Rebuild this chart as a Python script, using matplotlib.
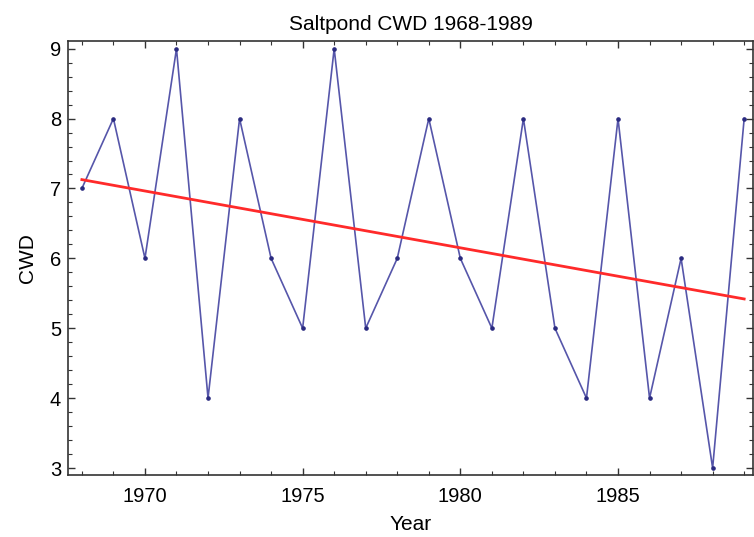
import numpy as np
import matplotlib
matplotlib.use("Agg")
import matplotlib.pyplot as plt
from matplotlib.ticker import MultipleLocator

years = [1968, 1969, 1970, 1971, 1972, 1973, 1974, 1975, 1976, 1977, 1978,
         1979, 1980, 1981, 1982, 1983, 1984, 1985, 1986, 1987, 1988, 1989]
cwd = [7, 8, 6, 9, 4, 8, 6, 5, 9, 5, 6, 8, 6, 5, 8, 5, 4, 8, 4, 6, 3, 8]
title = "Saltpond CWD 1968-1989"

plt.rcParams['font.family'] = ['Liberation Sans', 'DejaVu Sans']

fig = plt.figure(figsize=(7.54, 5.37), dpi=100)
ax = fig.add_axes([68/754, 62/537, (753-68)/754, (475-41)/537])

x = np.array(years, dtype=float)
y = np.array(cwd, dtype=float)
slope, intercept = np.polyfit(x, y, 1)

ax.plot(x, y, color='#5656aa', lw=1.2, marker='o', ms=2.3, mfc='#2a2a80', mec='#2a2a80')
ax.plot(x, slope * x + intercept, color='#ff2a2a', lw=2)

ax.set_xlim(1967.56, 1989.28)
ax.set_ylim(2.9, 9.11)
ax.xaxis.set_major_locator(MultipleLocator(5))
ax.xaxis.set_minor_locator(MultipleLocator(1))
ax.yaxis.set_major_locator(MultipleLocator(1))
ax.yaxis.set_minor_locator(MultipleLocator(0.2))
ax.tick_params(which='both', direction='in', top=True, right=True, color='#333333')
ax.tick_params(which='major', length=5, width=1, labelsize=14.5)
ax.tick_params(axis='x', which='major', pad=9)
ax.tick_params(axis='y', which='major', pad=5)
ax.tick_params(which='minor', length=3, width=0.8)
for s in ax.spines.values():
    s.set_color('#333333')
    s.set_linewidth(1.2)

ax.set_xlabel('Year', fontsize=15, labelpad=6)
ax.set_ylabel('CWD', fontsize=15, labelpad=9)
ax.set_title(title, fontsize=15, pad=8)

fig.savefig('out.png', dpi=100)
